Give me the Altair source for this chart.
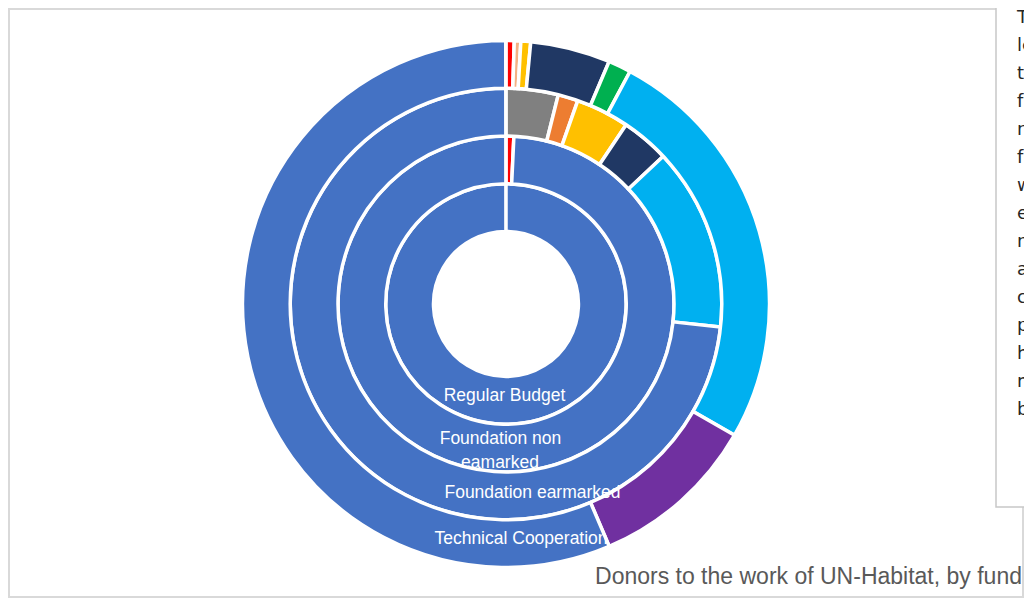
import altair as alt
import pandas as pd

# Donor categories (order drawn clockwise from 12 o'clock) and their colours
categories = ["NGOs", "Other", "Other governmental", "Foundations", "Local authorities",
              "Private sector", "Academia", "UN agencies", "European Commission", "Member States"]
colors = ["#FF0000", "#F4B183", "#808080", "#ED7D31", "#FFC000",
          "#203864", "#00B050", "#00B0F0", "#7030A0", "#4472C4"]

# Funds, from the inner ring outward
funds = ["Regular Budget", "Foundation non earmarked", "Foundation earmarked", "Technical Cooperation"]

# Share of each fund by donor category (%), same order as categories
regular_budget = [0, 0, 0, 0, 0, 0, 0, 0, 0, 100]
foundation_non_earmarked = [0.75, 0, 0, 0, 0, 0, 0, 0, 0, 99.25]
foundation_earmarked = [0, 0, 3.9, 1.5, 4.0, 3.6, 0, 13.7, 0, 73.3]
technical_cooperation = [0.5, 0.4, 0, 0, 0.6, 4.9, 1.4, 25.5, 10.3, 56.4]

ring_labels = ["Regular Budget", "Foundation non", "eamarked", "Foundation earmarked", "Technical Cooperation"]
title_text = "Donors to the work of UN-Habitat, by fund"
box_lines = ["Th", "le", "ty", "fu", "re", "fu", "w", "e", "n", "a", "c", "p", "hi", "m", "b"]

series = [regular_budget, foundation_non_earmarked, foundation_earmarked, technical_cooperation]
rows = []
for i, (fund, vals) in enumerate(zip(funds, series)):
    cum = 0.0
    for cat, v in zip(categories, vals):
        if v > 0:
            rows.append({"fund": fund, "donor": cat, "value": v,
                         "start": cum, "end": cum + v, "inner": i, "outer": i + 1})
        cum += v
df = pd.DataFrame(rows)

one = pd.DataFrame({"k": [0]})
CX, CY = 498, 296

frame = alt.Chart(one).mark_rect(filled=False, stroke="#D9D9D9", strokeWidth=2).encode(
    x=alt.value(1), x2=alt.value(1015), y=alt.value(1), y2=alt.value(589))

arcs = alt.Chart(df).mark_arc(stroke="white", strokeWidth=3.5).encode(
    theta=alt.Theta("start:Q", stack=None, scale=alt.Scale(domain=[0, 100], range=[0, 6.2822])),
    theta2="end:Q",
    radius=alt.Radius("inner:Q", scale=alt.Scale(type="linear", domain=[0, 4], range=[72.5, 263.5], zero=False)),
    radius2="outer:Q",
    color=alt.Color("donor:N", scale=alt.Scale(domain=categories, range=colors), legend=None),
    x=alt.value(CX), y=alt.value(CY),
    tooltip=["fund:N", "donor:N", "value:Q"])

box = alt.Chart(one).mark_rect(fill="white", stroke="#C8C8C8", strokeWidth=1.5).encode(
    x=alt.value(988), x2=alt.value(1045), y=alt.value(-10), y2=alt.value(499))

label_pos = [(496.5, 392.5), (492.5, 435.5), (492, 459.5), (524.5, 489.5), (513, 536)]
labels = [
    alt.Chart(one).mark_text(text=t, font="Liberation Sans", fontSize=17.5, color="white",
                             align="center", baseline="alphabetic").encode(x=alt.value(px), y=alt.value(py))
    for t, (px, py) in zip(ring_labels, label_pos)
]

title = alt.Chart(one).mark_text(text=title_text, font="Liberation Sans", fontSize=23, color="#595959",
                                 align="right", baseline="alphabetic").encode(
    x=alt.value(1014), y=alt.value(575.5))

box_text = alt.Chart(one).mark_text(text=box_lines, font="DejaVu Sans", fontSize=18, color="#262626",
                                    align="left", baseline="alphabetic", lineHeight=28).encode(
    x=alt.value(1009), y=alt.value(15))

chart = alt.layer(frame, arcs, box, *labels, title, box_text).properties(
    width=1016, height=590, padding=0,
    autosize=alt.AutoSizeParams(type="none")
).configure_view(stroke=None)

chart.save("out.html", embed_options={"renderer": "svg", "actions": False})
